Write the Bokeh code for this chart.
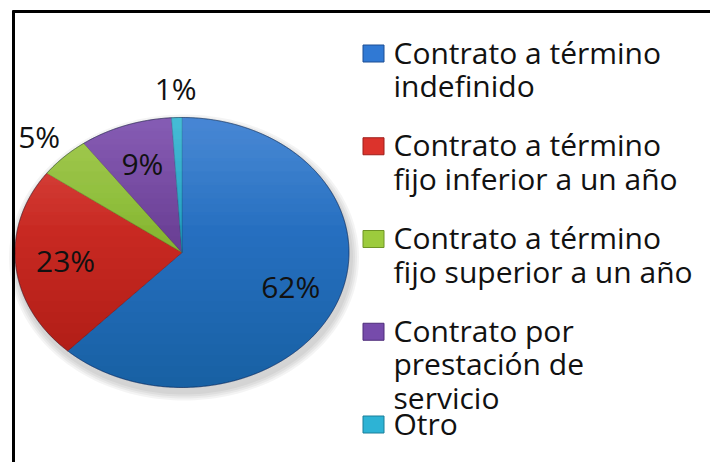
import numpy as np
from bokeh.plotting import figure
from bokeh.models import Range1d
from bokeh.core.properties import value
from bokeh.embed import file_html
from bokeh.resources import INLINE

# ---------------- data ----------------
categories = [
    "Contrato a término indefinido",
    "Contrato a término fijo inferior a un año",
    "Contrato a término fijo superior a un año",
    "Contrato por prestación de servicio",
    "Otro",
]
legend_lines = [
    ["Contrato a término", "indefinido"],
    ["Contrato a término", "fijo inferior a un año"],
    ["Contrato a término", "fijo superior a un año"],
    ["Contrato por", "prestación de", "servicio"],
    ["Otro"],
]
values = [62, 23, 5, 9, 1]
labels = ["62%", "23%", "5%", "9%", "1%"]
colors = ["#3079D4", "#DC332C", "#9CCB3D", "#764BAB", "#2DB3D5"]
edge_colors = ["#1C4F94", "#9E1E1A", "#6E9425", "#4E2D7A", "#1A7F99"]

# ---------------- layout (page pixel coordinates) ----------------
W, H = 710, 462
cx, cy = 181.5, 252.0      # pie centre
rx, ry = 167.0, 135.0      # elliptical radii (tilted pie)
text_shift = -10.5         # baseline correction for the svg text renderer

p = figure(width=W, height=H, x_range=Range1d(0, W), y_range=Range1d(H, 0),
           output_backend="svg", toolbar_location=None,
           x_axis_type=None, y_axis_type=None, min_border=0,
           outline_line_color=None, background_fill_color="white",
           border_fill_color="white")


def ell(theta, f=1.0):
    # theta measured clockwise from 12 o'clock
    return cx + f * rx * np.sin(theta), cy - f * ry * np.cos(theta)


# soft shadow under the pie
for k in range(4):
    t = np.linspace(0, 2 * np.pi, 200)
    grow = 2 + 2 * k
    p.patch(cx + 2 + (rx + grow) * np.sin(t), cy + 5 + (ry + grow) * np.cos(t),
            fill_color="#000000", fill_alpha=0.045, line_color=None)

# slices
total = float(sum(values))
fr = np.array(values) / total
ends = np.cumsum(fr) * 2 * np.pi
starts = ends - fr * 2 * np.pi
xs, ys = [], []
for s, e in zip(starts, ends):
    t = np.linspace(s, e, max(3, int((e - s) / 0.01)))
    ex, ey = ell(t)
    xs.append(np.concatenate([[cx], ex, [cx]]).tolist())
    ys.append(np.concatenate([[cy], ey, [cy]]).tolist())
p.patches(xs, ys, fill_color=colors, line_color=edge_colors, line_width=0.8,
          line_alpha=0.6)

# vertical shading (light top, darker bottom) over the pie
nb = 24
for k in range(nb):
    yk = cy - ry + (k + 1) * (2 * ry) / (nb + 1)
    c = (cy - yk) / ry
    a0 = np.arccos(np.clip(c, -1, 1))
    t = np.linspace(a0, 2 * np.pi - a0, 160)
    ex, ey = ell(t)
    p.patch(ex, ey, fill_color="#000000", fill_alpha=0.008, line_color=None)
# light highlight at the top
for k in range(8):
    yk = cy - ry + (k + 1) * ry * 0.9 / 9
    c = (cy - yk) / ry
    a0 = np.arccos(np.clip(c, -1, 1))
    t = np.linspace(-a0, a0, 120)
    ex, ey = ell(t)
    p.patch(ex, ey, fill_color="#ffffff", fill_alpha=0.015, line_color=None)

# rim
t = np.linspace(0, 2 * np.pi, 300)
ex, ey = ell(t)
p.line(ex, ey, line_color="#1a2a40", line_alpha=0.4, line_width=1)

# percentage labels (inside for large slices, outside for small ones)
mids = (starts + ends) / 2
lf = np.where(np.array(values) < 6, 1.21, 0.70)
lx, ly = ell(mids, lf)
p.text(x=lx.tolist(), y=(ly + 10 + text_shift).tolist(), text=labels,
       text_align="center", text_baseline="alphabetic",
       text_font=value("Open Sans"), text_font_size="30px", text_color="#111111")

# legend
x_mark, x_text = 373.0, 393.0
y_first, step, line_gap = 62.0, 92.75, 33.5
mx, my = [], []
tx, ty, tt = [], [], []
for i, lines in enumerate(legend_lines):
    y0 = y_first + i * step
    mx.append(x_mark)
    my.append(y0 - 9)
    for j, ln in enumerate(lines):
        tx.append(x_text)
        ty.append(y0 + j * line_gap + text_shift)
        tt.append(ln)
p.rect(x=mx, y=my, width=21, height=17, fill_color=colors, line_color=edge_colors,
       line_width=1)
p.text(x=tx, y=ty, text=tt, text_align="left", text_baseline="alphabetic",
       text_font=value("Open Sans"), text_font_size="30px", text_color="#111111")

# frame lines (top and left, as in the original picture)
p.segment(x0=[12, 13], y0=[11, 10], x1=[W, 13], y1=[11, H],
          line_color="black", line_width=3)

open("out.html", "w").write(file_html(p, INLINE))
